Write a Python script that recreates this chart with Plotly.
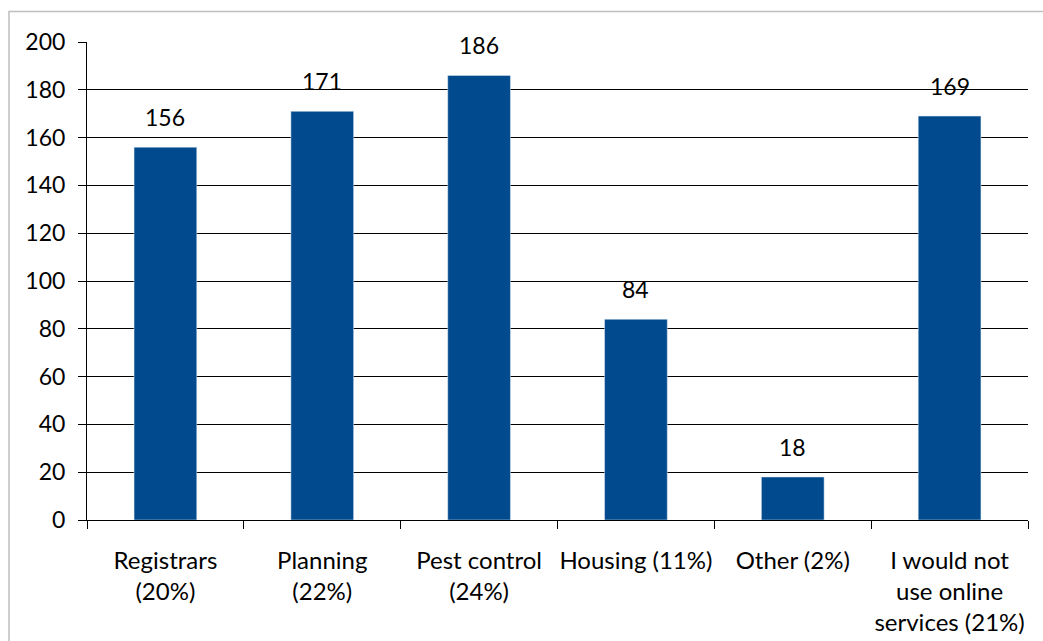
import plotly.graph_objects as go

categories = ["Registrars<br>(20%)", "Planning<br>(22%)", "Pest control<br>(24%)",
              "Housing (11%)", "Other (2%)", "I would not<br>use online<br>services (21%)"]
values = [156, 171, 186, 84, 18, 169]
y_ticks = list(range(0, 201, 20))

BAR = "#004A8D"
FONT = "Lato"

fig = go.Figure(go.Bar(x=categories, y=values, marker_color=BAR, width=0.4, hoverinfo="skip"))

for c, v in zip(categories, values):
    fig.add_annotation(x=c, y=v, text=str(v), showarrow=False, yanchor="bottom",
                       yshift=14, font=dict(family=FONT, size=23, color="black"))

# outer chart border
fig.add_shape(type="rect", xref="paper", yref="paper", x0=-0.0829, x1=1.2, y0=-0.4, y1=1.0637,
              line=dict(color="#BFBFBF", width=1.5), fillcolor="rgba(0,0,0,0)", layer="below")

fig.update_layout(
    width=1043, height=641,
    margin=dict(l=87, r=15, t=42, b=121, autoexpand=False),
    paper_bgcolor="white", plot_bgcolor="white",
    showlegend=False,
    font=dict(family=FONT, size=23, color="black"),
    bargap=0.6,
)
fig.update_xaxes(type="category", tickson="boundaries", ticks="outside", ticklen=8,
                 tickcolor="black", tickwidth=1, showline=True, linecolor="black", linewidth=1,
                 showgrid=False, tickfont=dict(family=FONT, size=24, color="black"),
                 tickangle=0, automargin=False, ticklabelstandoff=19)
fig.update_yaxes(range=[0, 200], tickvals=y_ticks, ticks="outside", ticklen=8, tickcolor="black",
                 tickwidth=1, showline=True, linecolor="black", linewidth=1, showgrid=True,
                 gridcolor="black", gridwidth=1, zeroline=False, automargin=False,
                 tickfont=dict(family=FONT, size=23, color="black"), ticklabelstandoff=8)

fig.write_html("out.html")
